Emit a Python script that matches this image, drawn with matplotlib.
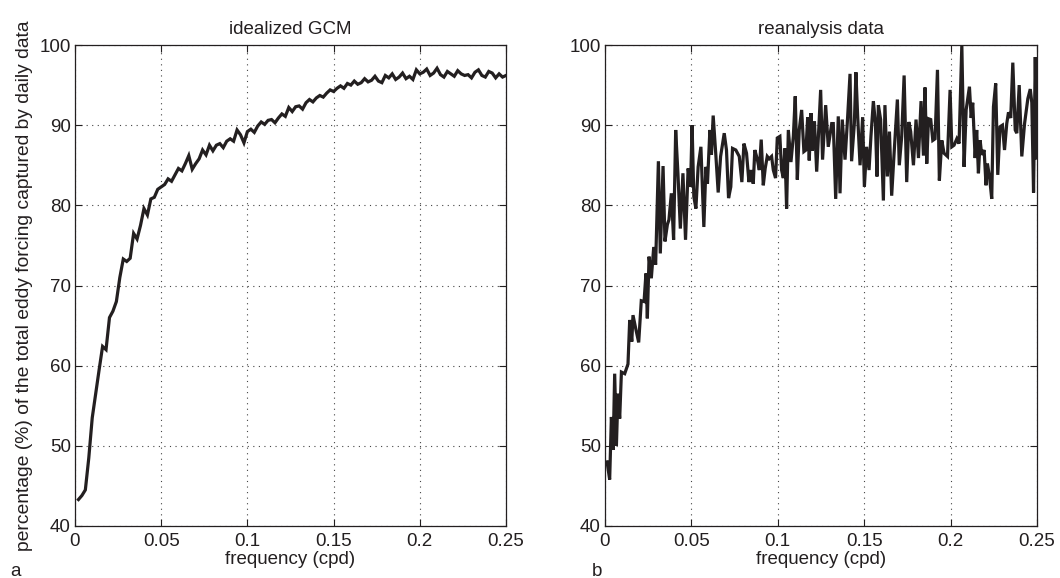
import numpy as np
import matplotlib
matplotlib.use("Agg")
import matplotlib.pyplot as plt

# ---- data: panel a (idealized GCM) ----
freq_a = np.round(np.arange(1, 126) * 0.002, 3)
pct_a = [43.3, 43.8, 44.5, 48.5, 53.5, 56.5, 59.5, 62.4, 62.0, 66.0,
         66.8, 68.0, 71.0, 73.3, 73.0, 73.4, 76.5, 75.8, 77.5, 79.6,
         78.8, 80.8, 81.0, 82.0, 82.3, 82.6, 83.3, 83.0, 83.8, 84.6,
         84.3, 85.2, 86.2, 84.5, 85.2, 85.8, 86.9, 86.3, 87.5, 86.8,
         87.5, 87.7, 87.2, 88.0, 88.3, 88.0, 89.4, 88.8, 87.8,
         89.2, 89.5, 89.1, 89.9, 90.4, 90.1, 90.6, 90.7, 90.3, 90.9,
         91.4, 91.1, 92.2, 91.7, 92.3, 92.4, 92.0, 92.8, 93.2, 92.9,
         93.4, 93.7, 93.5, 94.0, 94.4,
         94.2, 94.6, 94.9, 94.6, 95.2, 95.0, 95.5, 95.1, 95.3, 95.8,
         95.4, 95.6, 96.1, 95.5, 95.3, 96.2, 95.9, 96.4, 95.7, 96.0,
         96.5, 95.8, 96.1, 95.7, 96.9, 96.4, 96.6, 97.0, 96.2, 96.5,
         97.1, 96.3, 96.0, 96.7, 96.4, 96.1, 96.8, 96.4, 96.2, 96.3,
         95.9, 96.6, 96.9, 96.2, 96.0, 96.7, 96.5, 95.9, 96.4, 96.0,
         96.2]

# ---- data: panel b (reanalysis data) ----
freq_b = [0.0012, 0.0027, 0.0037, 0.0047, 0.0056, 0.0066, 0.0075, 0.0085, 0.0095, 0.0114,
          0.0133, 0.0143, 0.0155, 0.0162, 0.0178, 0.0195, 0.0210, 0.0226, 0.0237, 0.0245,
          0.0255, 0.0268, 0.0282, 0.0293, 0.0309, 0.0320, 0.0336, 0.0347, 0.0361, 0.0370,
          0.0384, 0.0397, 0.0409, 0.0422, 0.0436, 0.0451, 0.0466, 0.0481, 0.0495, 0.0504,
          0.0514, 0.0526, 0.0539, 0.0555, 0.0572, 0.0584, 0.0593, 0.0607, 0.0616, 0.0626,
          0.0642, 0.0655, 0.0669, 0.0690, 0.0703, 0.0715, 0.0728, 0.0738, 0.0757, 0.0777,
          0.0792, 0.0804, 0.0819, 0.0833, 0.0844, 0.0858, 0.0867, 0.0881, 0.0893, 0.0904,
          0.0916, 0.0927, 0.0939, 0.0950, 0.0964, 0.0974, 0.0987, 0.0997, 0.1012, 0.1022,
          0.1032, 0.1041, 0.1051, 0.1061, 0.1076, 0.1090, 0.1101, 0.1113, 0.1124, 0.1138,
          0.1151, 0.1163, 0.1173, 0.1182, 0.1192, 0.1200, 0.1212, 0.1225, 0.1248, 0.1259,
          0.1277, 0.1292, 0.1312, 0.1321, 0.1335, 0.1350, 0.1360, 0.1373, 0.1389, 0.1402,
          0.1418, 0.1427, 0.1443, 0.1452, 0.1462, 0.1476, 0.1491, 0.1501, 0.1514, 0.1528,
          0.1539, 0.1553, 0.1565, 0.1574, 0.1582, 0.1595, 0.1611, 0.1620, 0.1634, 0.1646,
          0.1659, 0.1673, 0.1692, 0.1703, 0.1717, 0.1731, 0.1746, 0.1758, 0.1769, 0.1785,
          0.1800, 0.1814, 0.1829, 0.1843, 0.1852, 0.1862, 0.1872, 0.1885, 0.1897, 0.1910,
          0.1924, 0.1935, 0.1949, 0.1962, 0.1982, 0.1997, 0.2007, 0.2020, 0.2036, 0.2049,
          0.2065, 0.2078, 0.2090, 0.2109, 0.2119, 0.2128, 0.2142, 0.2151, 0.2161, 0.2171,
          0.2180, 0.2194, 0.2205, 0.2213, 0.2225, 0.2238, 0.2248, 0.2261, 0.2273, 0.2286,
          0.2300, 0.2312, 0.2325, 0.2335, 0.2348, 0.2360, 0.2374, 0.2383, 0.2397, 0.2412,
          0.2428, 0.2447, 0.2461, 0.2470, 0.2480, 0.2490, 0.2499]
pct_b = [48.0, 45.8, 53.6, 49.5, 59.0, 50.0, 56.5, 53.4, 59.2, 59.0,
         60.2, 65.7, 63.0, 66.3, 64.6, 62.9, 68.1, 68.0, 71.5, 65.9,
         73.6, 70.9, 74.8, 72.6, 85.5, 74.0, 84.9, 75.5, 77.6, 78.2,
         81.5, 75.7, 89.4, 84.0, 77.1, 84.0, 75.7, 84.6, 82.3, 90.0,
         81.1, 79.6, 84.8, 87.3, 77.3, 84.8, 82.7, 89.4, 86.3, 91.2,
         86.1, 81.6, 86.1, 89.0, 86.9, 80.9, 82.3, 87.1, 86.9, 86.1,
         82.9, 87.7, 86.5, 82.9, 84.4, 82.7, 86.9, 85.8, 84.4, 88.2,
         82.5, 84.6, 86.1, 85.8, 86.1, 84.4, 83.4, 88.4, 88.6, 84.4,
         83.4, 87.1, 79.6, 89.4, 85.4, 88.6, 93.6, 83.2, 89.4, 91.9,
         86.7, 86.9, 91.0, 85.6, 91.5, 86.8, 90.5, 84.2, 94.4, 85.7,
         92.5, 87.3, 90.2, 90.2, 80.8, 91.1, 81.5, 90.7, 85.7, 90.2,
         96.4, 85.5, 90.2, 96.6, 91.2, 85.0, 91.0, 82.3, 87.3, 84.4,
         88.6, 93.0, 90.2, 83.6, 92.5, 90.7, 80.6, 92.5, 83.6, 89.2,
         81.2, 86.5, 93.2, 85.0, 88.6, 96.2, 82.9, 90.4, 89.2, 85.0,
         90.7, 85.9, 93.0, 86.2, 94.7, 85.2, 90.8, 90.7, 88.1, 88.3,
         96.9, 83.1, 88.1, 86.5, 86.1, 94.4, 87.3, 87.5, 88.3, 87.7,
         100.0, 84.8, 91.9, 94.8, 90.9, 92.8, 85.9, 89.4, 84.0, 88.1,
         86.3, 86.9, 82.5, 85.2, 83.6, 80.8, 92.3, 95.2, 83.8, 89.8,
         90.0, 86.9, 90.2, 91.6, 90.9, 97.8, 89.4, 89.0, 95.0, 86.1,
         90.2, 93.3, 94.5, 92.8, 81.6, 98.5, 85.9]

titles = ["idealized GCM", "reanalysis data"]
panel_letters = ["a", "b"]
xticks = [0, 0.05, 0.1, 0.15, 0.2, 0.25]
xticklabels = ["0", "0.05", "0.1", "0.15", "0.2", "0.25"]
yticks = [40, 50, 60, 70, 80, 90, 100]
ylabel = "percentage (%) of the total eddy forcing captured by daily data"
xlabel = "frequency (cpd)"

plt.rcParams['font.family'] = ['Liberation Sans', 'DejaVu Sans']

fig = plt.figure(figsize=(10.6, 5.78), dpi=100)
axa = fig.add_axes([75/1060, 1-526/578, 431/1060, 481/578])
axb = fig.add_axes([605/1060, 1-526/578, 432/1060, 481/578])

ink = '#231f20'
for ax, fx, py, title in [(axa, freq_a, pct_a, titles[0]),
                          (axb, freq_b, pct_b, titles[1])]:
    ax.plot(fx, py, color=ink, lw=2.3, solid_joinstyle='miter')
    ax.set_xlim(0, 0.25)
    ax.set_ylim(40, 100)
    ax.set_xticks(xticks)
    ax.set_xticklabels(xticklabels)
    ax.set_yticks(yticks)
    ax.grid(True, linestyle=(0, (1, 4)), color='#444444', linewidth=0.8)
    ax.tick_params(direction='in', top=True, right=True, length=5, width=0.8,
                   labelsize=13.5, colors=ink)
    ax.tick_params(axis='x', pad=5)
    ax.tick_params(axis='y', pad=3)
    for s in ax.spines.values():
        s.set_linewidth(0.9)
        s.set_color(ink)
    ax.set_title(title, fontsize=13.5, pad=8, color=ink)
    ax.set_xlabel(xlabel, fontsize=13.5, labelpad=1, color=ink)

axa.set_ylabel(ylabel, fontsize=13.9, labelpad=5, color=ink)
fig.text(10/1060, 1-571/578, panel_letters[0], fontsize=13.5, va='center', ha='left', color=ink)
fig.text(592/1060, 1-571/578, panel_letters[1], fontsize=13.5, va='center', ha='left', color=ink)

fig.savefig("out.png", dpi=100)
